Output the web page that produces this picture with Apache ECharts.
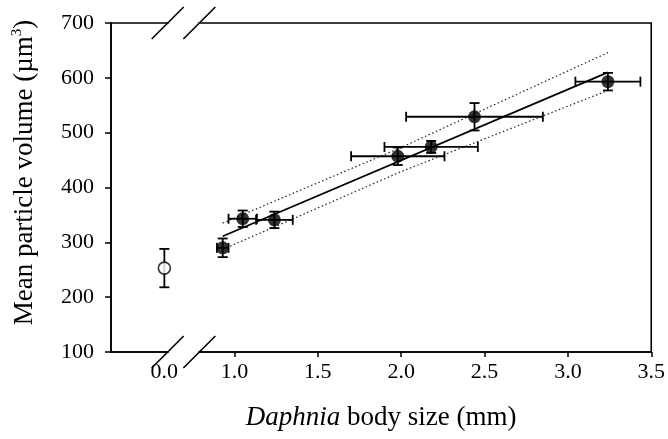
<!DOCTYPE html>
<html>
<head>
<meta charset="utf-8">
<script src="https://cdn.jsdelivr.net/npm/echarts@6/dist/echarts.min.js"></script>
<style>
  html, body { margin: 0; padding: 0; background: #fff; }
  #chart { width: 668px; height: 439px; }
</style>
</head>
<body>
<div id="chart"></div>
<script>
// Daphnia body size (mm) vs. mean particle volume (µm³), means with error bars.
// The first entry (size 0.0) is the control without Daphnia, drawn as an open circle.
const bodySize    = [0.00, 0.93, 1.05, 1.24, 1.98, 2.18, 2.44, 3.24];
const bodySizeErr = [0.00, 0.035, 0.085, 0.11, 0.28, 0.28, 0.41, 0.195];
const volume      = [253, 290, 343, 341, 457, 474, 529, 593];
const volumeErr   = [35, 17, 15, 15, 16, 11, 25, 16];
const isControl   = [true, false, false, false, false, false, false, false];

// Fitted regression line and its confidence band
const fitX      = [0.93, 3.24];
const fitY      = [311, 610];
const bandX     = [0.93, 2.00, 3.24];
const bandUpper = [335, 473, 646];
const bandLower = [287, 429, 577];

// Tick labels
const xTickValues = [0.0, 1.0, 1.5, 2.0, 2.5, 3.0, 3.5];
const yTickValues = [100, 200, 300, 400, 500, 600, 700];

// Broken x axis: values below BREAK_BELOW are shifted right by BREAK_SHIFT
const BREAK_BELOW = 0.5;
const BREAK_SHIFT = 0.58;
const BREAK_MARKS = [0.60, 0.79];
const toAxis = v => (v < BREAK_BELOW ? v + BREAK_SHIFT : v);
const fromAxis = v => (v < BREAK_BELOW + BREAK_SHIFT - 0.2 ? v - BREAK_SHIFT : v);

const FONT = '"Liberation Serif", "Times New Roman", serif';

const errorData = bodySize.map((x, i) => [toAxis(x), volume[i], bodySizeErr[i], volumeErr[i]]);
const filledPts = [];
const openPts = [];
bodySize.forEach((x, i) => {
  (isControl[i] ? openPts : filledPts).push([toAxis(x), volume[i]]);
});

const chart = echarts.init(document.getElementById('chart'));

chart.setOption({
  animation: false,
  backgroundColor: '#fff',
  grid: {
    left: 111, right: 14, top: 23, bottom: 87,
    show: true, borderColor: '#000', borderWidth: 1.6, backgroundColor: 'transparent'
  },
  xAxis: {
    type: 'value',
    min: 0.26,
    max: 3.5,
    axisLine: { show: true, lineStyle: { color: '#000', width: 1.6 } },
    splitLine: { show: false },
    axisTick: {
      show: true, length: 5, inside: false,
      customValues: xTickValues.filter(v => v >= BREAK_BELOW).map(toAxis),
      lineStyle: { color: '#000', width: 1.5 }
    },
    axisLabel: {
      customValues: xTickValues.map(toAxis),
      formatter: v => fromAxis(v).toFixed(1),
      fontFamily: FONT, fontSize: 22, color: '#000', margin: 9
    },
    name: '{i|Daphnia} body size (mm)',
    nameLocation: 'middle',
    nameGap: 52,
    nameTextStyle: {
      fontFamily: FONT, fontSize: 27, color: '#000',
      rich: { i: { fontFamily: FONT, fontSize: 27, fontStyle: 'italic', color: '#000' } }
    }
  },
  yAxis: {
    type: 'value',
    min: 100,
    max: 700,
    interval: 100,
    axisLine: { show: true, lineStyle: { color: '#000', width: 1.6 } },
    splitLine: { show: false },
    axisTick: { show: true, length: 6, lineStyle: { color: '#000', width: 1.5 } },
    axisLabel: {
      customValues: yTickValues,
      fontFamily: FONT, fontSize: 22, color: '#000', margin: 17
    },
    name: 'Mean particle volume (µm{s|3})',
    nameLocation: 'middle',
    nameGap: 72,
    nameTextStyle: {
      fontFamily: FONT, fontSize: 27, color: '#000',
      padding: [0, 0, 0, 30],
      rich: { s: { fontFamily: FONT, fontSize: 15, color: '#000', padding: [0, 0, 14, 0] } }
    }
  },
  series: [
    {
      type: 'line',
      data: bandX.map((x, i) => [x, bandUpper[i]]),
      showSymbol: false,
      lineStyle: { color: '#222', width: 1.2, type: [1.5, 2.5] },
      z: 3
    },
    {
      type: 'line',
      data: bandX.map((x, i) => [x, bandLower[i]]),
      showSymbol: false,
      lineStyle: { color: '#222', width: 1.2, type: [1.5, 2.5] },
      z: 3
    },
    {
      type: 'line',
      data: fitX.map((x, i) => [x, fitY[i]]),
      showSymbol: false,
      lineStyle: { color: '#000', width: 1.7 },
      z: 3
    },
    {
      type: 'custom',
      data: errorData,
      z: 4,
      renderItem(params, api) {
        const x = api.value(0), y = api.value(1), ex = api.value(2), ey = api.value(3);
        const cap = 5;
        const style = { stroke: '#000', lineWidth: 1.8 };
        const parts = [];
        const t = api.coord([x, y + ey]);
        const b = api.coord([x, y - ey]);
        parts.push({ type: 'line', shape: { x1: t[0], y1: t[1], x2: b[0], y2: b[1] }, style });
        parts.push({ type: 'line', shape: { x1: t[0] - cap, y1: t[1], x2: t[0] + cap, y2: t[1] }, style });
        parts.push({ type: 'line', shape: { x1: b[0] - cap, y1: b[1], x2: b[0] + cap, y2: b[1] }, style });
        if (ex > 0) {
          const l = api.coord([x - ex, y]);
          const r = api.coord([x + ex, y]);
          parts.push({ type: 'line', shape: { x1: l[0], y1: l[1], x2: r[0], y2: r[1] }, style });
          parts.push({ type: 'line', shape: { x1: l[0], y1: l[1] - cap, x2: l[0], y2: l[1] + cap }, style });
          parts.push({ type: 'line', shape: { x1: r[0], y1: r[1] - cap, x2: r[0], y2: r[1] + cap }, style });
        }
        return { type: 'group', children: parts };
      }
    },
    {
      type: 'scatter',
      data: filledPts,
      symbol: 'circle',
      symbolSize: 13,
      itemStyle: { color: '#000' },
      z: 5
    },
    {
      type: 'scatter',
      data: openPts,
      symbol: 'circle',
      symbolSize: 12,
      itemStyle: { color: '#fff', borderColor: '#000', borderWidth: 1.6 },
      z: 5
    },
    {
      // axis-break marks: a gap in the top and bottom frame lines with two slashes each
      type: 'custom',
      data: [BREAK_MARKS],
      clip: false,
      silent: true,
      z: 10,
      renderItem(params, api) {
        const a = api.value(0), b = api.value(1);
        const s = 16;
        const parts = [];
        [700, 100].forEach(yv => {
          const pa = api.coord([a, yv]);
          const pb = api.coord([b, yv]);
          parts.push({
            type: 'rect',
            shape: { x: pa[0] + 1, y: pa[1] - 2, width: pb[0] - pa[0] - 2, height: 4 },
            style: { fill: '#fff' }
          });
          [pa, pb].forEach(p => {
            parts.push({
              type: 'line',
              shape: { x1: p[0] - s, y1: p[1] + s, x2: p[0] + s, y2: p[1] - s },
              style: { stroke: '#000', lineWidth: 1.6 }
            });
          });
        });
        return { type: 'group', children: parts };
      }
    }
  ]
});
</script>
</body>
</html>
